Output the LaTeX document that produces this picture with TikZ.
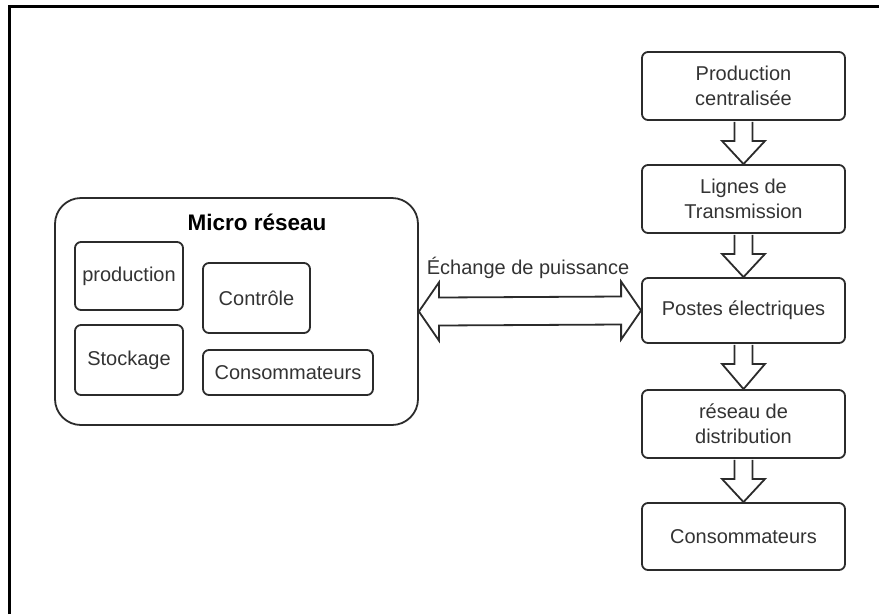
\documentclass[tikz,border=0pt]{standalone}
\usepackage{fontspec}
\setmainfont{Liberation Sans}
\usetikzlibrary{calc}
\definecolor{ink}{HTML}{2B2B2B}
\definecolor{txt}{HTML}{333333}
\tikzset{
  x=1pt, y=-1pt,
  box/.style={draw=ink, line width=1.8pt, rounded corners=6pt, inner sep=0pt,
    align=center, text=txt, font=\fontsize{20}{25}\selectfont},
  bigbox/.style={draw=ink, line width=1.8pt, rounded corners=26pt, inner sep=0pt},
  blockarrow/.style={draw=ink, line width=1.8pt, fill=white, line join=miter},
  lbl/.style={text=txt, font=\fontsize{20}{25}\selectfont, inner sep=0pt},
}
\begin{document}
\begin{tikzpicture}
\useasboundingbox (0,0) rectangle (879,614);
% frame
\draw[line width=3pt, black] (9.5,614) -- (9.5,6.5) -- (879,6.5);

% right chain
\node[box, minimum width=203pt, minimum height=68pt] (b1) at (743.5,86) {Production\\centralisée};
\node[box, minimum width=203pt, minimum height=68pt] (b2) at (743.5,199) {Lignes de\\Transmission};
\node[box, minimum width=203pt, minimum height=65pt] (b3) at (743.5,310.5) {Postes électriques};
\node[box, minimum width=203pt, minimum height=68pt] (b4) at (743.5,424) {réseau de\\distribution};
\node[box, minimum width=203pt, minimum height=67pt] (b5) at (743.5,536.5) {Consommateurs};

% micro grid
\node[bigbox, minimum width=363pt, minimum height=227pt] (micro) at (236.5,311.5) {};
\node[text=black, font=\bfseries\fontsize{22.5}{26}\selectfont, inner sep=0pt] (title) at (257,222) {Micro réseau};
\node[box, minimum width=108pt, minimum height=68pt] (prod) at (129,276) {production};
\node[box, minimum width=108pt, minimum height=70pt] (stock) at (129,360) {Stockage};
\node[box, minimum width=107pt, minimum height=70pt] (ctrl) at (256.5,298) {Contrôle};
\node[box, minimum width=170pt, minimum height=45pt] (cons) at (288,372.5) {Consommateurs};

% down block arrows
\foreach \a/\b in {b1/b2, b2/b3, b3/b4, b4/b5}{
  \draw[blockarrow] ($(\a.south)+(-9,0.9)$) -- ($(\a.south)+(-9,20)$) -- ($(\a.south)+(-21.5,20)$)
    -- (\b.north) -- ($(\a.south)+(21.5,20)$) -- ($(\a.south)+(9,20)$) -- ($(\a.south)+(9,0.9)$);
}

% double block arrow
\draw[blockarrow] (micro.east) -- ($(micro.east)+(20,-29)$) -- ($(micro.east)+(20,-14)$)
  -- ($(b3.west)+(-20,-14)$) -- ($(b3.west)+(-20,-29)$) -- (b3.west)
  -- ($(b3.west)+(-20,29)$) -- ($(b3.west)+(-20,14)$)
  -- ($(micro.east)+(20,14)$) -- ($(micro.east)+(20,29)$) -- cycle;
\node[lbl] (ech) at (528,268) {Échange de puissance};
\end{tikzpicture}
\end{document}
